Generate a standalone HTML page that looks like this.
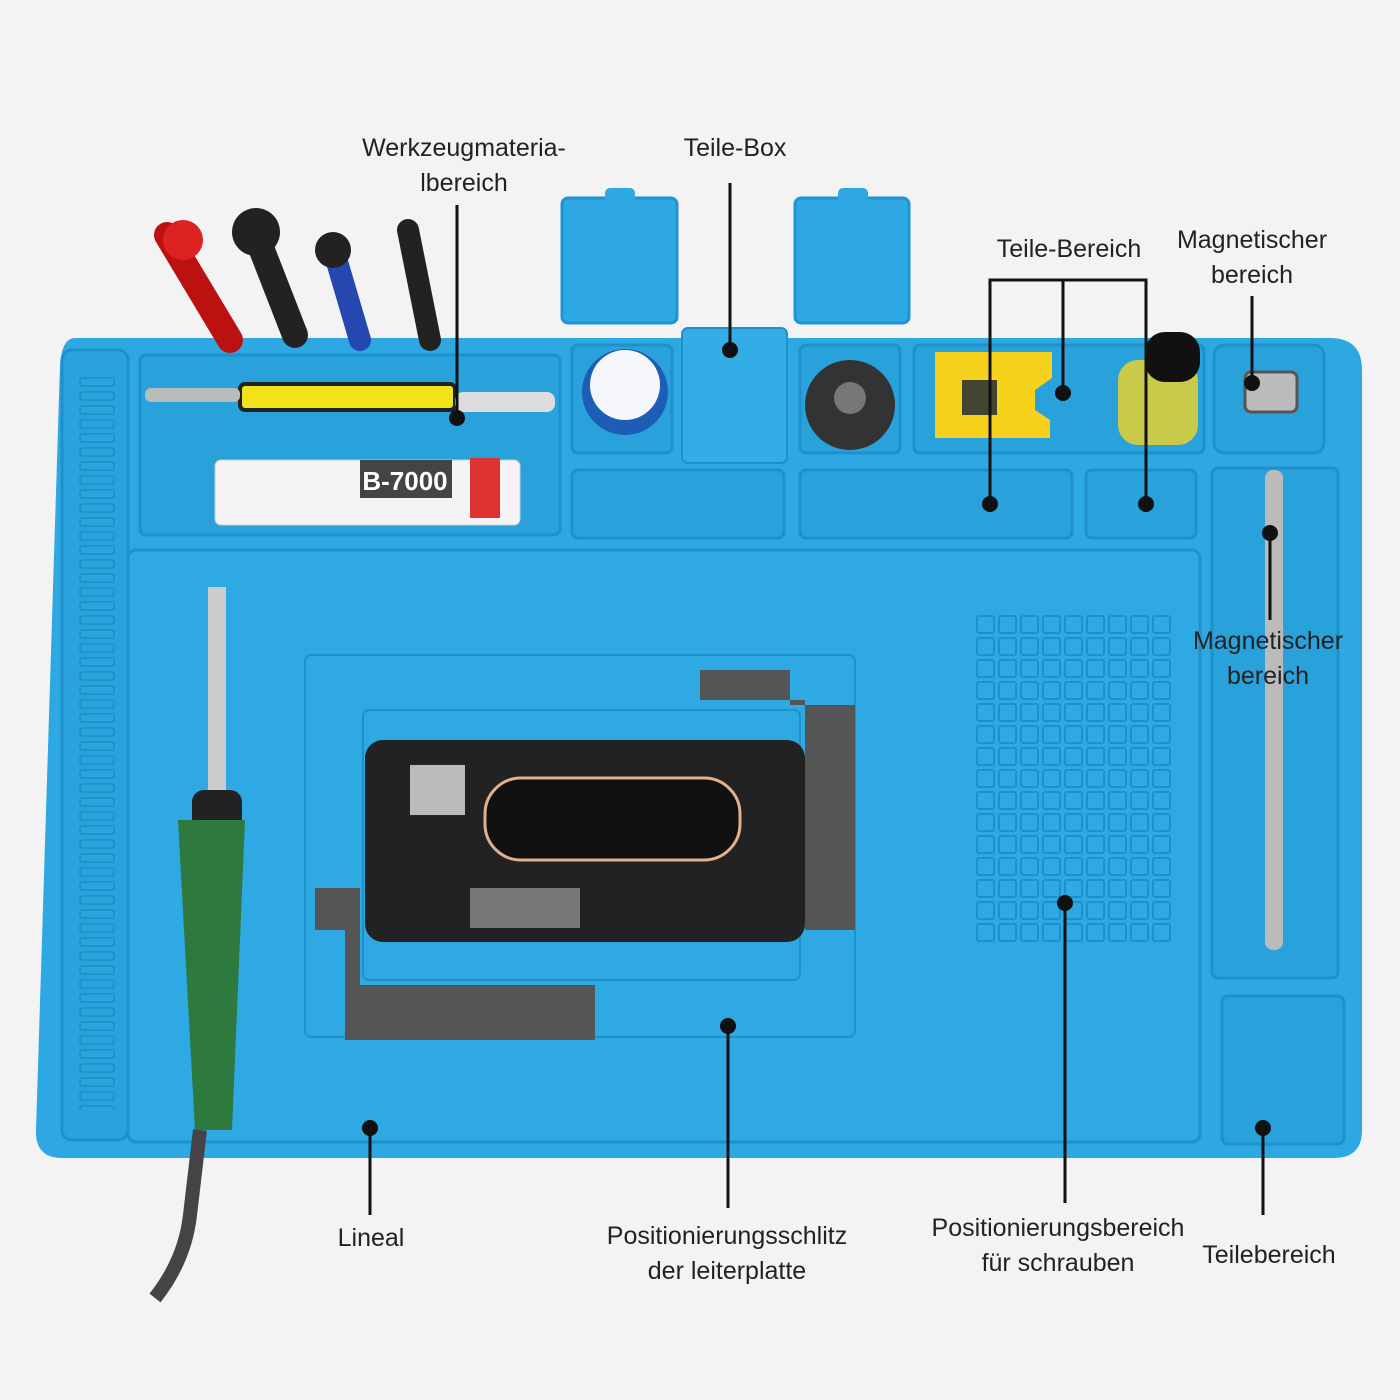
<!DOCTYPE html>
<html><head><meta charset="utf-8"><style>
html,body{margin:0;padding:0;background:#f3f3f3;}
body{width:1400px;height:1400px;overflow:hidden;position:relative;font-family:"Liberation Sans","DejaVu Sans",sans-serif;}
svg{position:absolute;left:0;top:0;}
text{font-family:"Liberation Sans",sans-serif;font-size:25px;fill:#222;text-anchor:middle;font-weight:300;}
</style></head><body>
<svg width="1400" height="1400" viewBox="0 0 1400 1400">
<defs>
<pattern id="rul" x="77" y="375" width="40" height="14" patternUnits="userSpaceOnUse">
<rect x="3" y="3" width="34" height="8" rx="2" fill="#2ba4dd" stroke="#1c8cc6" stroke-width="1.5"/></pattern>
<pattern id="grid" x="975" y="614" width="22" height="22" patternUnits="userSpaceOnUse">
<rect x="2" y="2" width="17" height="17" rx="2" fill="none" stroke="#1f90cc" stroke-width="2"/></pattern>
</defs>
<rect x="562" y="198" width="115" height="125" rx="6" fill="#2ea8e3" stroke="#1f94d0" stroke-width="3"/>
<rect x="795" y="198" width="114" height="125" rx="6" fill="#2ea8e3" stroke="#1f94d0" stroke-width="3"/>
<rect x="605" y="188" width="30" height="14" rx="5" fill="#2ea8e3"/>
<rect x="838" y="188" width="30" height="14" rx="5" fill="#2ea8e3"/>
<path d="M75 338 H1330 Q1362 338 1362 370 V1130 Q1362 1158 1334 1158 H62 Q35 1158 36 1130 L60 365 Q62 338 75 338Z" fill="#2ea8e3"/>
<rect x="62" y="350" width="66" height="790" rx="10" fill="#2aa3dc" stroke="#1f90cc" stroke-width="3"/>
<rect x="77" y="375" width="40" height="735" fill="url(#rul)"/>
<rect x="140" y="355" width="420" height="180" rx="6" fill="#29a2dc" stroke="#1f90cc" stroke-width="3"/>
<rect x="572" y="345" width="100" height="108" rx="6" fill="#29a2dc" stroke="#1f90cc" stroke-width="3"/>
<rect x="682" y="328" width="105" height="135" rx="6" fill="#33ade6" stroke="#1f90cc" stroke-width="2"/>
<rect x="800" y="345" width="100" height="108" rx="6" fill="#29a2dc" stroke="#1f90cc" stroke-width="3"/>
<rect x="914" y="345" width="290" height="108" rx="6" fill="#29a2dc" stroke="#1f90cc" stroke-width="3"/>
<rect x="1214" y="345" width="110" height="108" rx="10" fill="#29a2dc" stroke="#1f90cc" stroke-width="3"/>
<rect x="572" y="470" width="212" height="68" rx="6" fill="#29a2dc" stroke="#1f90cc" stroke-width="3"/>
<rect x="800" y="470" width="272" height="68" rx="6" fill="#29a2dc" stroke="#1f90cc" stroke-width="3"/>
<rect x="1086" y="470" width="110" height="68" rx="6" fill="#29a2dc" stroke="#1f90cc" stroke-width="3"/>
<rect x="1212" y="468" width="126" height="510" rx="6" fill="#29a2dc" stroke="#1f90cc" stroke-width="3"/>
<rect x="1222" y="996" width="122" height="148" rx="6" fill="#29a2dc" stroke="#1f90cc" stroke-width="3"/>
<rect x="128" y="550" width="1072" height="592" rx="8" fill="#2fa9e4" stroke="#1f90cc" stroke-width="3"/>
<rect x="305" y="655" width="550" height="382" rx="6" fill="none" stroke="#1f90cc" stroke-width="2"/>
<rect x="363" y="710" width="437" height="270" rx="6" fill="none" stroke="#1f90cc" stroke-width="2"/>
<rect x="975" y="614" width="198" height="330" fill="url(#grid)"/>
<rect x="240" y="384" width="215" height="26" rx="5" fill="#f1e21c" stroke="#222" stroke-width="4"/>
<rect x="455" y="392" width="100" height="20" rx="8" fill="#ddd"/>
<rect x="145" y="388" width="95" height="14" rx="6" fill="#bbb"/>
<rect x="215" y="460" width="305" height="65" rx="6" fill="#f4f4f4" stroke="#ccc"/>
<rect x="360" y="460" width="92" height="38" fill="#444"/>
<text x="405" y="490" style="fill:#fff;font-weight:bold;font-size:26px">B-7000</text>
<rect x="470" y="458" width="30" height="60" fill="#d33"/>
<circle cx="625" cy="392" r="43" fill="#1e5db5"/><circle cx="625" cy="385" r="35" fill="#f4f6fb"/>
<circle cx="850" cy="405" r="45" fill="#333"/><circle cx="850" cy="398" r="16" fill="#777"/>
<path d="M935 352 H1052 V378 L1035 390 V410 L1050 420 V438 H935Z" fill="#f6d21c"/>
<rect x="962" y="380" width="35" height="35" fill="#443"/>
<rect x="1118" y="360" width="80" height="85" rx="20" fill="#c9c94a"/>
<rect x="1145" y="332" width="55" height="50" rx="20" fill="#111"/>
<rect x="1245" y="372" width="52" height="40" rx="6" fill="#bbb" stroke="#555" stroke-width="3"/>
<path d="M167 235 L230 340" stroke="#b11" stroke-width="26" stroke-linecap="round"/>
<circle cx="183" cy="240" r="20" fill="#d22"/>
<path d="M258 240 L295 335" stroke="#222" stroke-width="26" stroke-linecap="round"/>
<circle cx="256" cy="232" r="24" fill="#222"/>
<path d="M335 255 L360 340" stroke="#2447b0" stroke-width="22" stroke-linecap="round"/>
<circle cx="333" cy="250" r="18" fill="#222"/>
<path d="M408 230 L430 340" stroke="#222" stroke-width="22" stroke-linecap="round"/>
<rect x="1265" y="470" width="18" height="480" rx="8" fill="#bbb"/>
<rect x="208" y="587" width="18" height="210" fill="#ccc"/>
<rect x="192" y="790" width="50" height="40" rx="12" fill="#222"/>
<path d="M178 820 H245 L232 1130 H195Z" fill="#2e7a3e"/>
<path d="M200 1130 L190 1215 Q185 1260 155 1298" stroke="#444" stroke-width="14" fill="none"/>
<path d="M700 670 H790 V705 H855 V930 H805 V700 H700Z" fill="#555"/>
<rect x="365" y="740" width="440" height="202" rx="18" fill="#222"/>
<rect x="485" y="778" width="255" height="82" rx="36" fill="#111" stroke="#e3b08a" stroke-width="3"/>
<rect x="410" y="765" width="55" height="50" fill="#bbb"/>
<rect x="470" y="888" width="110" height="40" fill="#777"/>
<path d="M315 888 H360 V985 H595 V1040 H345 V930 H315Z" fill="#555"/>
<g stroke="#111" stroke-width="3" fill="none">
<path d="M457 205 V418"/><path d="M730 183 V350"/>
<path d="M990 504 V280 H1146 V504"/><path d="M1063 280 V393"/>
<path d="M1252 296 V383"/><path d="M1270 533 V620"/>
<path d="M370 1128 V1215"/><path d="M728 1026 V1208"/>
<path d="M1065 903 V1203"/><path d="M1263 1128 V1215"/>
</g>
<g fill="#111">
<circle cx="457" cy="418" r="8"/><circle cx="730" cy="350" r="8"/>
<circle cx="990" cy="504" r="8"/><circle cx="1063" cy="393" r="8"/><circle cx="1146" cy="504" r="8"/>
<circle cx="1252" cy="383" r="8"/><circle cx="1270" cy="533" r="8"/>
<circle cx="370" cy="1128" r="8"/><circle cx="728" cy="1026" r="8"/>
<circle cx="1065" cy="903" r="8"/><circle cx="1263" cy="1128" r="8"/>
</g>
<text x="464" y="156">Werkzeugmateria-</text><text x="464" y="191">lbereich</text>
<text x="735" y="156">Teile-Box</text>
<text x="1069" y="257">Teile-Bereich</text>
<text x="1252" y="248">Magnetischer</text><text x="1252" y="283">bereich</text>
<text x="1268" y="649">Magnetischer</text><text x="1268" y="684">bereich</text>
<text x="371" y="1246">Lineal</text>
<text x="727" y="1244">Positionierungsschlitz</text><text x="727" y="1279">der leiterplatte</text>
<text x="1058" y="1236">Positionierungsbereich</text><text x="1058" y="1271">für schrauben</text>
<text x="1269" y="1263">Teilebereich</text>
</svg>
</body></html>
